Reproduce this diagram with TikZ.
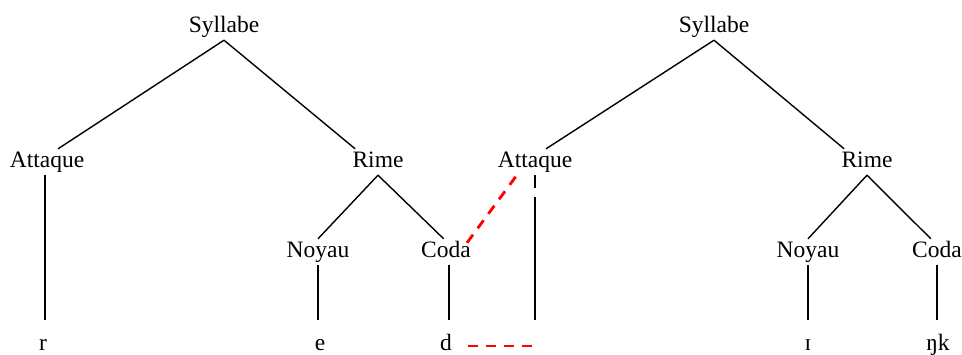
\documentclass[tikz,border=0pt]{standalone}
\usepackage{fontspec}
\setmainfont{Liberation Serif}

\tikzset{
    tnode/.style={inner sep=3pt, text height=15pt, text depth=5pt, font=\fontsize{23.5}{28}\selectfont},
    leaf/.style={tnode, inner sep=0pt, text depth=0pt, anchor=base},
    branch/.style={line width=1.4pt, black},
    link/.style={line width=2.8pt, red, dash pattern=on 10pt off 8pt}
}

\begin{document}
\begin{tikzpicture}[x=1pt,y=-1pt]
                    \useasboundingbox (0,0) rectangle (962,354);

                    % first syllable
                    \node[tnode] (s1) at (224,27) {Syllabe};
                    \node[tnode] (a1) at (47,162) {Attaque};
                    \node[tnode] (r1) at (378,162) {Rime};
                    \node[tnode] (n1) at (318,252) {Noyau};
                    \node[tnode] (c1) at (446,252) {Coda};

                    % second syllable
                    \node[tnode] (s2) at (714,27) {Syllabe};
                    \node[tnode] (a2) at (535,162) {Attaque};
                    \node[tnode] (r2) at (867,162) {Rime};
                    \node[tnode] (n2) at (808,252) {Noyau};
                    \node[tnode] (c2) at (937,252) {Coda};

                    % segments
                    \node[leaf] (l1) at (43,350) {r};
                    \node[leaf] (l2) at (320,350) {e};
                    \node[leaf] (l3) at (446,350) {d};
                    \node[leaf] (l4) at (808,350) {ɪ};
                    \node[leaf] (l5) at (938,350) {ŋk};

                    \coordinate (g1) at (535,188);
                    \coordinate (g2) at (535,197);
                    \coordinate (a2end) at (535,320);

                    \draw[branch] (s1.south) -- (a1.50);
                    \draw[branch] (s1.south) -- (r1.150);
                    \draw[branch] (r1.south) -- (n1.north);
                    \draw[branch] (r1.south) -- (c1.100);
                    \draw[branch] (s2.south) -- (a2.50);
                    \draw[branch] (s2.south) -- (r2.150);
                    \draw[branch] (r2.south) -- (n2.north);
                    \draw[branch] (r2.south) -- (c2.115);

                    \draw[branch] (a1.south) ++(-2,0) -- ++(0,145);
                    \draw[branch, shorten >=15pt] (n1.south) -- (n1.south |- l2.north);
                    \draw[branch, shorten >=15pt] ([xshift=3pt]c1.south) -- ([xshift=3pt]c1.south |- l3.north);
                    \draw[branch] (a2.south) -- (g1);
                    \draw[branch] (g2) -- (a2end);
                    \draw[branch, shorten >=15pt] (n2.south) -- (n2.south |- l4.north);
                    \draw[branch, shorten >=15pt] (c2.south) -- (c2.south |- l5.north);

                    % resyllabification
                    \draw[link] ([xshift=-7pt,yshift=-4pt]c1.north east) -- (a2.-144);
                    \draw[link, shorten <=16pt] ([yshift=-3.5pt]l3.east) -- ([xshift=3pt,yshift=-3.5pt]l3.east -| a2end);
\end{tikzpicture}
\end{document}
